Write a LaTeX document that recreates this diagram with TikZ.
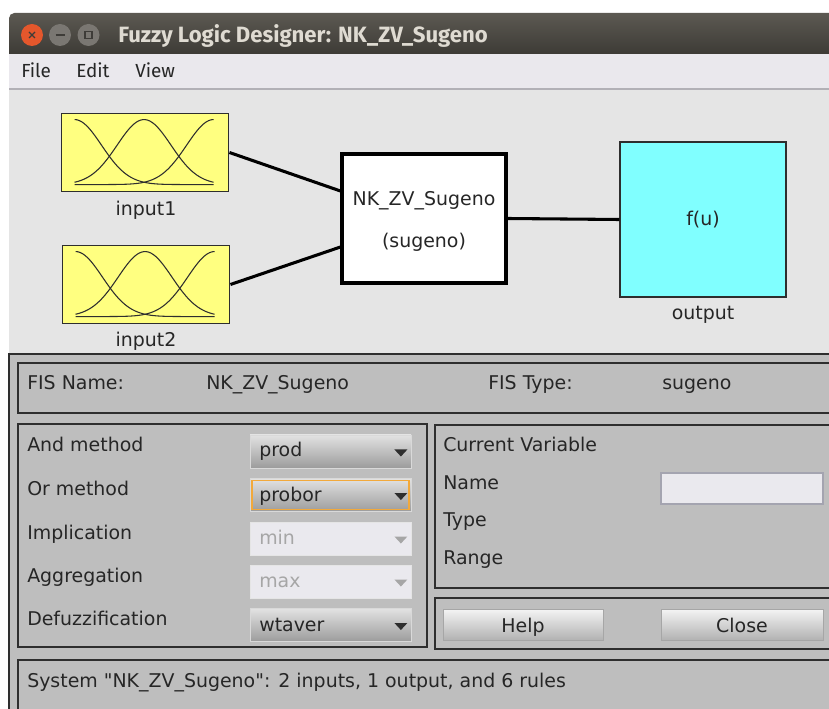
\documentclass[tikz,border=0pt]{standalone}
\usepackage{fontspec}
\setmainfont{DejaVu Sans}[Ligatures=TeXOff]
\newfontfamily\barfont{Fira Sans}
\usetikzlibrary{calc}

\definecolor{titletop}{HTML}{5C5952}
\definecolor{titlebot}{HTML}{3D3B36}
\definecolor{titletext}{HTML}{DFDBD2}
\definecolor{menubg}{HTML}{EAE8ED}
\definecolor{menuline}{HTML}{B2B0B6}
\definecolor{canvasbg}{HTML}{E5E5E5}
\definecolor{panelbg}{HTML}{BEBEBE}
\definecolor{framecol}{HTML}{2E2E2E}
\definecolor{textcol}{HTML}{262626}
\definecolor{greytext}{HTML}{A6A6A6}
\definecolor{mfyellow}{HTML}{FFFF80}
\definecolor{outcyan}{HTML}{80FFFF}
\definecolor{closered}{HTML}{E4572C}
\definecolor{wingrey}{HTML}{7A7772}
\definecolor{winglyph}{HTML}{3E3C38}
\definecolor{combotop}{HTML}{E2E2E2}
\definecolor{combobot}{HTML}{9C9C9C}
\definecolor{offfill}{HTML}{EAE9EE}
\definecolor{focusorange}{HTML}{F2A93B}
\definecolor{btntop}{HTML}{F4F4F4}
\definecolor{btnbot}{HTML}{B2B2B2}
\definecolor{editborder}{HTML}{A4A4B0}

\newcommand\guisize{\fontsize{14.2pt}{17pt}\selectfont}

\begin{document}
\begin{tikzpicture}[x=0.75pt,y=-0.75pt,
  lbl/.style={font=\guisize, text=textcol, inner sep=0pt, anchor=base west},
  clbl/.style={font=\guisize, text=textcol, inner sep=0pt, anchor=base},
  offlbl/.style={lbl, text=greytext},
  frame/.style={draw=framecol, line width=1.4pt},
  mfbox/.style={draw=framecol, line width=1.4pt, fill=mfyellow, inner sep=0pt,
    minimum width=0.75*167pt, minimum height=0.75*78pt},
  mf/.style={draw=framecol, line width=0.8pt},
  link/.style={draw=black, line width=2.3pt},
  combo/.style={draw=white!85!black, line width=0.6pt, top color=combotop, bottom color=combobot,
    inner sep=0pt, minimum width=0.75*161pt, minimum height=0.75*33pt},
  combooff/.style={draw=white!90!black, line width=0.6pt, fill=offfill,
    inner sep=0pt, minimum width=0.75*161pt, minimum height=0.75*33pt},
  btn/.style={draw=gray!70, line width=0.6pt, top color=btntop, bottom color=btnbot,
    inner sep=0pt, minimum width=0.75*160pt, minimum height=0.75*31pt},
]
\useasboundingbox (0,0) rectangle (829,709);
\clip (0,0) rectangle (829,709);
\fill[white] (0,0) rectangle (829,709);

% window title bar
\shade[top color=titletop, bottom color=titlebot]
  (9,54) [rounded corners=4pt] -- (9,13) [sharp corners] -- (840,13) -- (840,54) -- cycle;
\node[circle, fill=closered, minimum size=0.75*22pt, inner sep=0pt] (wclose) at (32,35) {};
\node[circle, fill=wingrey, minimum size=0.75*22pt, inner sep=0pt] (wmin) at (60,35) {};
\node[circle, fill=wingrey, minimum size=0.75*22pt, inner sep=0pt] (wmax) at (88.5,35) {};
\draw[winglyph, line width=1pt] ($(wclose)+(-3,-3)$) -- ($(wclose)+(3,3)$)
  ($(wclose)+(-3,3)$) -- ($(wclose)+(3,-3)$);
\draw[winglyph, line width=1.2pt] ($(wmin)+(-4.5,0)$) -- ($(wmin)+(4.5,0)$);
\draw[winglyph, line width=0.9pt] ($(wmax)+(-3.5,-3.5)$) rectangle ($(wmax)+(3.5,3.5)$);
\node[font=\barfont\bfseries\fontsize{16.6pt}{19pt}\selectfont, text=titletext, inner sep=0pt,
  anchor=base west] (title) at (118,43) {Fuzzy Logic Designer: NK\_ZV\_Sugeno};

% menu bar
\fill[menubg] (9,54) rectangle (840,88);
\fill[menuline] (9,88) rectangle (840,90);
\node[font=\barfont\fontsize{14.2pt}{17pt}\selectfont, text=textcol, inner sep=0pt, anchor=base west]
  (mfile) at (21,78) {File};
\node[font=\barfont\fontsize{14.2pt}{17pt}\selectfont, text=textcol, inner sep=0pt, anchor=base west]
  (medit) at (76,78) {Edit};
\node[font=\barfont\fontsize{14.2pt}{17pt}\selectfont, text=textcol, inner sep=0pt, anchor=base west]
  (mview) at (135,78) {View};

% system diagram
\fill[canvasbg] (9,90) rectangle (840,354);
\node[mfbox] (in1) at (145,152.5) {};
\node[mfbox] (in2) at (146,284.5) {};
\foreach \b in {in1,in2}{
  \begin{scope}[shift={(\b.north west)}]
    \draw[mf] plot[domain=0:2, samples=60, smooth] ({14+69.5*\x}, {72-65*exp(-(\x*\x)/0.3)});
    \draw[mf] plot[domain=0:2, samples=60, smooth] ({14+69.5*\x}, {72-65*exp(-((\x-1)*(\x-1))/0.3)});
    \draw[mf] plot[domain=0:2, samples=60, smooth] ({14+69.5*\x}, {72-65*exp(-((\x-2)*(\x-2))/0.3)});
  \end{scope}
}
\node[clbl] (in1lbl) at (146,216) {input1};
\node[clbl] (in2lbl) at (146,346.5) {input2};

\node[draw=black, line width=2.3pt, fill=white, inner sep=0pt,
  minimum width=0.75*164pt, minimum height=0.75*129pt] (fis) at (424,218.5) {};
\node[clbl] (fisname) at (424,206) {NK\_ZV\_Sugeno};
\node[clbl] (fistype) at (424,248) {(sugeno)};

\node[draw=framecol, line width=0.8pt, fill=outcyan, inner sep=0pt,
  minimum width=0.75*166pt, minimum height=0.75*155pt] (out) at (703,219.5) {};
\node[clbl] (fu) at (703,226) {f(u)};
\node[clbl] (outlbl) at (703,320) {output};

\draw[link] (in1.east) -- ($(fis.west)+(0,-27.5)$);
\draw[link] (in2.east) -- ($(fis.west)+(0,28.5)$);
\draw[link] (fis.east) -- (out.west);

% control panel
\fill[panelbg] (9,354) rectangle (840,720);
\draw[framecol, line width=1pt] (9,354) rectangle (840,720);
\draw[frame] (18,363) rectangle (840,413);
\draw[frame] (18,424) rectangle (427,647);
\draw[frame] (435,425) rectangle (840,588);
\draw[frame] (435,598) rectangle (840,649);
\draw[frame] (18,660) rectangle (840,720);

\node[lbl] (fnlbl) at (27,390) {FIS Name:};
\node[lbl] (fnval) at (206,390) {NK\_ZV\_Sugeno};
\node[lbl] (ftlbl) at (488,390) {FIS Type:};
\node[lbl] (ftval) at (662,390) {sugeno};

\node[lbl] (andlbl) at (27,452) {And method};
\node[lbl] (orlbl) at (27,495) {Or method};
\node[lbl] (implbl) at (27,539) {Implication};
\node[lbl] (agglbl) at (27,582) {Aggregation};
\node[lbl] (defzlbl) at (27,625) {Defuzzification};

\node[combo] (cand) at (330.5,451.5) {};
\node[combo] (cor) at (330.5,495) {};
\node[combooff] (cimp) at (330.5,538.5) {};
\node[combooff] (cagg) at (330.5,581.5) {};
\node[combo] (cdef) at (330.5,625) {};
\draw[focusorange, line width=1.1pt] ($(cor.south west)+(2.5,-2.5)$) rectangle ($(cor.north east)+(-2.5,2.5)$);

\node[lbl] (andval) at (259,457) {prod};
\node[lbl] (orval) at (259,502) {probor};
\node[offlbl] (impval) at (259,544) {min};
\node[offlbl] (aggval) at (259,587) {max};
\node[lbl] (defval) at (259,631) {wtaver};

\foreach \c/\col in {cand/framecol, cor/framecol, cimp/greytext, cagg/greytext, cdef/framecol}{
  \fill[\col] ($(\c.east)+(-17,-2)$) -- ++(13,0) -- ++(-6.5,7) -- cycle;
}

\node[lbl] (cvlbl) at (443,452) {Current Variable};
\node[lbl] (namelbl) at (443,489) {Name};
\node[lbl] (typelbl) at (443,527) {Type};
\node[lbl] (rangelbl) at (443,564) {Range};
\node[draw=editborder, line width=0.8pt, fill=offfill, inner sep=0pt,
  minimum width=0.75*162pt, minimum height=0.75*31pt] (nameedit) at (742,488.5) {};

\node[btn] (help) at (523,624.5) {};
\node[btn, minimum width=0.75*162pt] (close) at (742,624.5) {};
\node[clbl] (helplbl) at (523,632) {Help};
\node[clbl] (closelbl) at (742,632) {Close};

\node[lbl] (status) at (27,687) {System "NK\_ZV\_Sugeno": 2 inputs, 1 output, and 6 rules};
\end{tikzpicture}
\end{document}
